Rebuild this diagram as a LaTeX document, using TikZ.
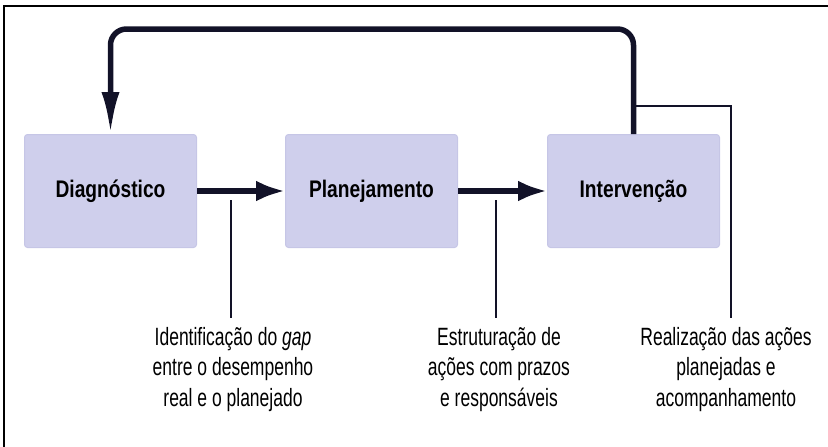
\documentclass[tikz,border=0pt]{standalone}
\usepackage{fontspec}
\setmainfont{Liberation Sans}
\newfontfamily\notefont{Liberation Sans}[FakeStretch=0.70]
\newfontfamily\boxfont{Liberation Sans}[FakeStretch=0.80]
\usetikzlibrary{arrows.meta}
\definecolor{boxfill}{RGB}{207,207,236}
\definecolor{boxedge}{RGB}{198,198,230}
\definecolor{arrowc}{RGB}{18,18,40}
\begin{document}
\begin{tikzpicture}[x=1pt,y=-1pt,
  stage/.style={draw=boxedge, line width=1pt, fill=boxfill, rounded corners=3pt,
    minimum width=172pt, minimum height=113pt, inner sep=0pt,
    font=\boxfont\fontsize{24}{28}\selectfont\bfseries},
  flow/.style={draw=arrowc, line width=5.5pt, -{Latex[length=29pt,width=21pt]}},
  lead/.style={draw=arrowc, line width=2pt},
  note/.style={align=center, font=\notefont\fontsize{25}{30.5}\selectfont, inner sep=0pt, anchor=north},
  frame/.style={draw=black, line width=2pt}]
\useasboundingbox (0,0) rectangle (828,447);
% frame
\coordinate (fb) at (4,447);
\coordinate (ftl) at (4,6);
\coordinate (ftr) at (828,6);
\draw[frame] (fb) -- (ftl) -- (ftr);
% boxes
\node[stage] (diag) at (110.5,191) {Diagnóstico};
\node[stage] (plan) at (371.5,191) {Planejamento};
\node[stage] (interv) at (633.5,191) {Intervenção};
% arrows
\draw[flow] (diag) -- (plan);
\draw[flow] (plan) -- (interv);
\coordinate (loopR) at (633.5,29);
\coordinate (loopL) at (110.5,29);
\draw[flow, -{Latex[length=42pt,width=18pt]}, rounded corners=16pt]
  (interv.north) -- (loopR) -- (loopL) -- (diag.north);
% leader lines
\coordinate (s1) at (231,200);
\coordinate (e1) at (231,318);
\coordinate (s2) at (496,200);
\coordinate (e2) at (496,318);
\coordinate (s3) at (633.5,106);
\coordinate (e3) at (731,318);
\draw[lead] (s1) -- (e1);
\draw[lead] (s2) -- (e2);
\draw[lead] (s3) -| (e3);
% labels
\node[note] (l1) at (233,327) {Identificação do \textit{gap}\\entre o desempenho\\real e o planejado};
\node[note] (l2) at (499,327) {Estruturação de\\ações com prazos\\e responsáveis};
\node[note] (l3) at (726,327) {Realização das ações\\planejadas e\\acompanhamento};
\end{tikzpicture}
\end{document}
